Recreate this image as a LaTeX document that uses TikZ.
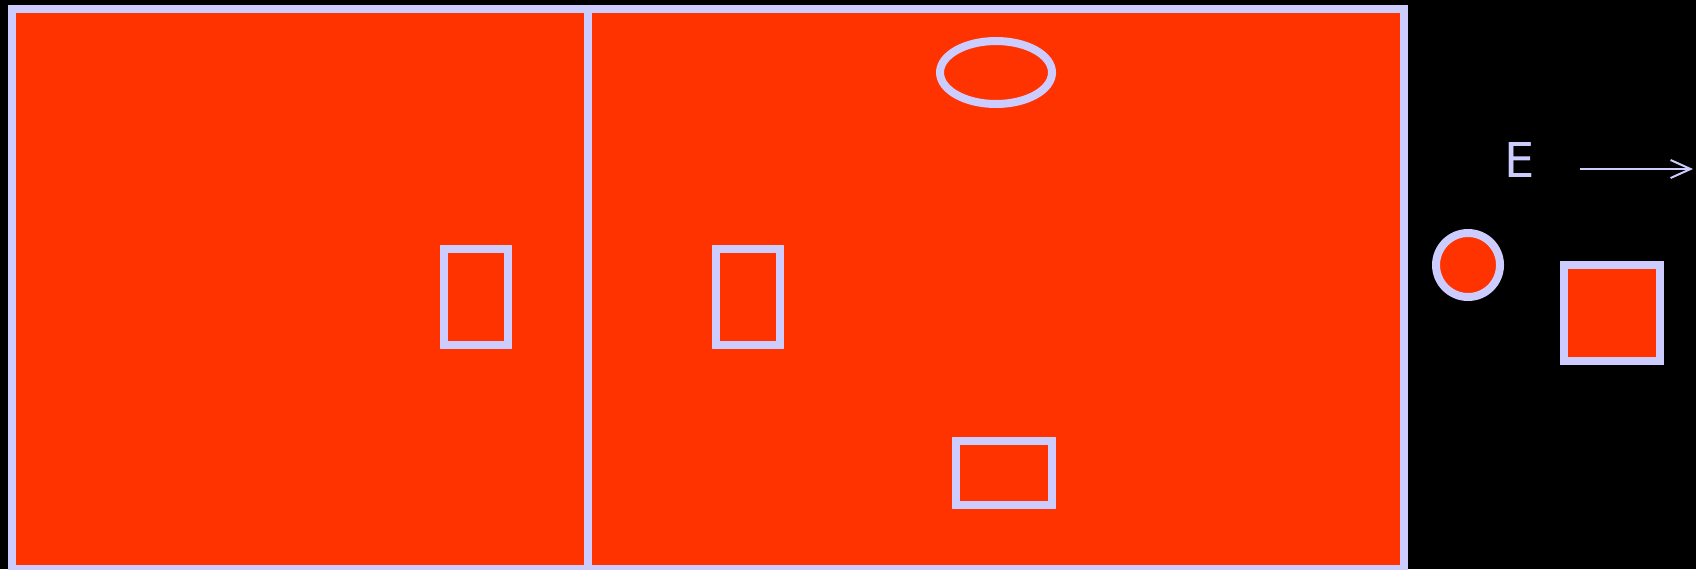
\documentclass[tikz,border=0pt]{standalone}
\usepackage{fontspec}
\setmainfont{DejaVu Sans}
\usetikzlibrary{arrows.meta}
\definecolor{fillred}{HTML}{FF3300}
\definecolor{lav}{HTML}{CCCCFF}

\begin{document}
\begin{tikzpicture}[x=0.5pt, y=-0.5pt,
    part/.style={draw=lav, line width=4pt, fill=fillred},
    hole/.style={draw=lav, line width=4pt}]
        % background and picture size
        \fill[black] (0,0) rectangle (1696,569);
        \useasboundingbox (0,0) rectangle (1696,569);

        % main block
        \draw[part] (12,9) rectangle (1404,569);
        \draw[hole] (588,9) -- (588,569);

        % marks inside the block
        \draw[hole] (444,249) rectangle (508,345);
        \draw[hole] (716,249) rectangle (780,345);
        \draw[hole] (996,72.5) ellipse [x radius=56, y radius=31.5];
        \draw[hole] (956,441) rectangle (1052,505);

        % loose pieces
        \draw[part] (1468,265) circle [radius=32];
        \draw[part] (1564,265) rectangle (1660,361);

        % direction label
        \node[text=lav, font=\fontsize{24}{24}\selectfont, inner sep=0pt] (lblE) at (1519.5,159.5) {E};
        \coordinate (dirA) at (1580,169);
        \coordinate (dirB) at (1693,169);
        \draw[draw=lav, line width=1pt, -{Straight Barb[length=10pt, width=9pt]}] (dirA) -- (dirB);

    \end{tikzpicture}
\end{document}
